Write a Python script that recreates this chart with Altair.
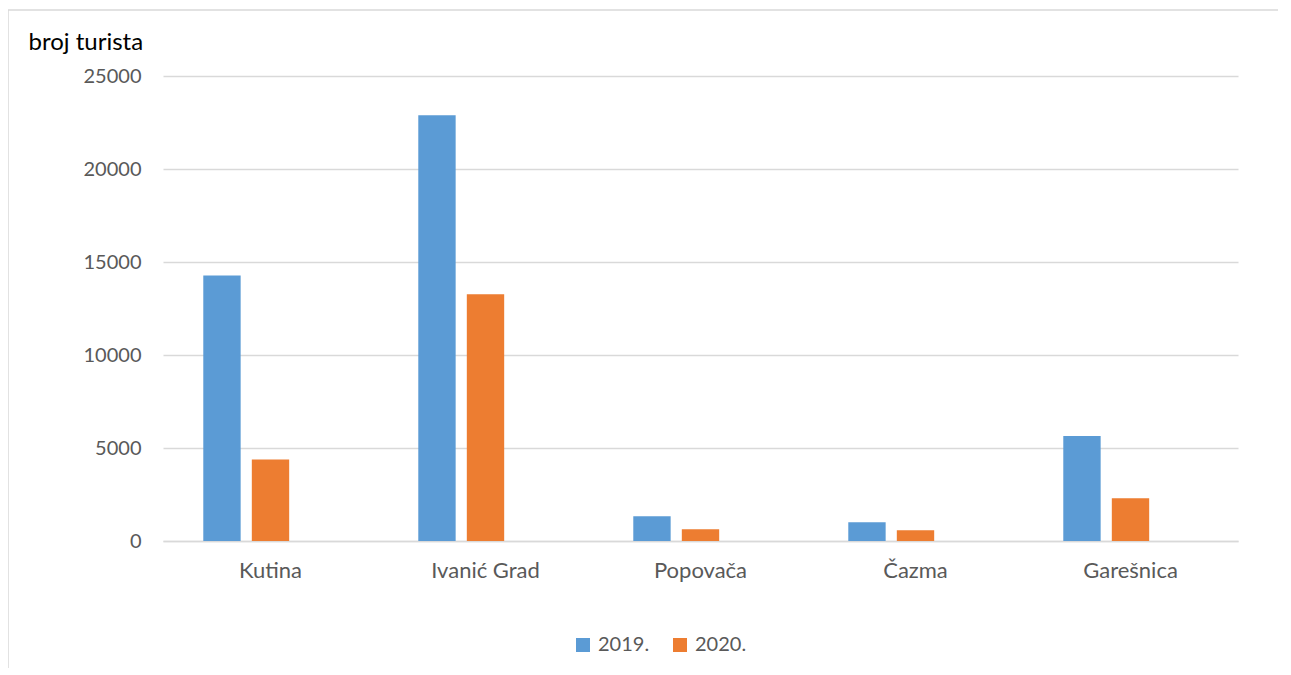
import altair as alt
import pandas as pd

cities = ["Kutina", "Ivanić Grad", "Popovača", "Čazma", "Garešnica"]
years = ["2019.", "2020."]
v2019 = [14280, 22890, 1330, 1005, 5650]
v2020 = [4380, 13260, 630, 575, 2295]
y_ticks = [0, 5000, 10000, 15000, 20000, 25000]
colors = ["#5B9BD5", "#ED7D31"]

rows = []
for c, a, b in zip(cities, v2019, v2020):
    rows.append({"grad": c, "godina": years[0], "broj": a})
    rows.append({"grad": c, "godina": years[1], "broj": b})
df = pd.DataFrame(rows)

FONT = "Lato"

bars = alt.Chart(df).mark_bar().encode(
    x=alt.X("grad:N", sort=cities,
            scale=alt.Scale(paddingInner=0, paddingOuter=0),
            axis=alt.Axis(title=None, labelAngle=0, labelFontSize=22, labelColor="#595959",
                          labelFont=FONT, ticks=False, domainColor="#d9d9d9", domainWidth=1.5,
                          labelPadding=19)),
    xOffset=alt.XOffset("godina:N",
                        scale=alt.Scale(domain=years + ["_"], paddingInner=0.23, paddingOuter=0.83)),
    y=alt.Y("broj:Q",
            scale=alt.Scale(domain=[0, 25000], nice=False),
            axis=alt.Axis(values=y_ticks, format="d", title="broj turista", titleAngle=0,
                          titleX=-135, titleY=-34,
                          titleAlign="left", titleBaseline="middle", titleFontSize=24, titleFont=FONT,
                          titleFontWeight="normal", titleColor="#000000",
                          labelFontSize=20, labelFont=FONT, labelColor="#595959", labelPadding=22,
                          ticks=False, domain=False, gridColor="#d9d9d9", gridWidth=1.5)),
    color=alt.Color("godina:N",
                    scale=alt.Scale(domain=years, range=colors),
                    legend=alt.Legend(title=None, orient="none", legendX=410, legendY=559,
                                      direction="horizontal", symbolType="square", symbolSize=196,
                                      labelFontSize=20, labelFont=FONT, labelColor="#595959",
                                      columnPadding=20, labelOffset=5, symbolStrokeWidth=0)),
)

one = pd.DataFrame({"a": [0]})
frame_left = alt.Chart(one).mark_rule(color="#d9d9d9", strokeWidth=1.5).encode(
    x=alt.value(-155), y=alt.value(-66), y2=alt.value(700))
frame_top = alt.Chart(one).mark_rule(color="#d9d9d9", strokeWidth=1.5).encode(
    x=alt.value(-155), x2=alt.value(1200), y=alt.value(-66))

chart = alt.layer(frame_left, frame_top, bars).properties(
    width=1075, height=465,
    autosize=alt.AutoSizeParams(type="none"),
    padding={"left": 155, "top": 68, "right": 40, "bottom": 127},
).configure_view(stroke=None)

chart.save("out.html", embed_options={"renderer": "svg", "actions": False})
